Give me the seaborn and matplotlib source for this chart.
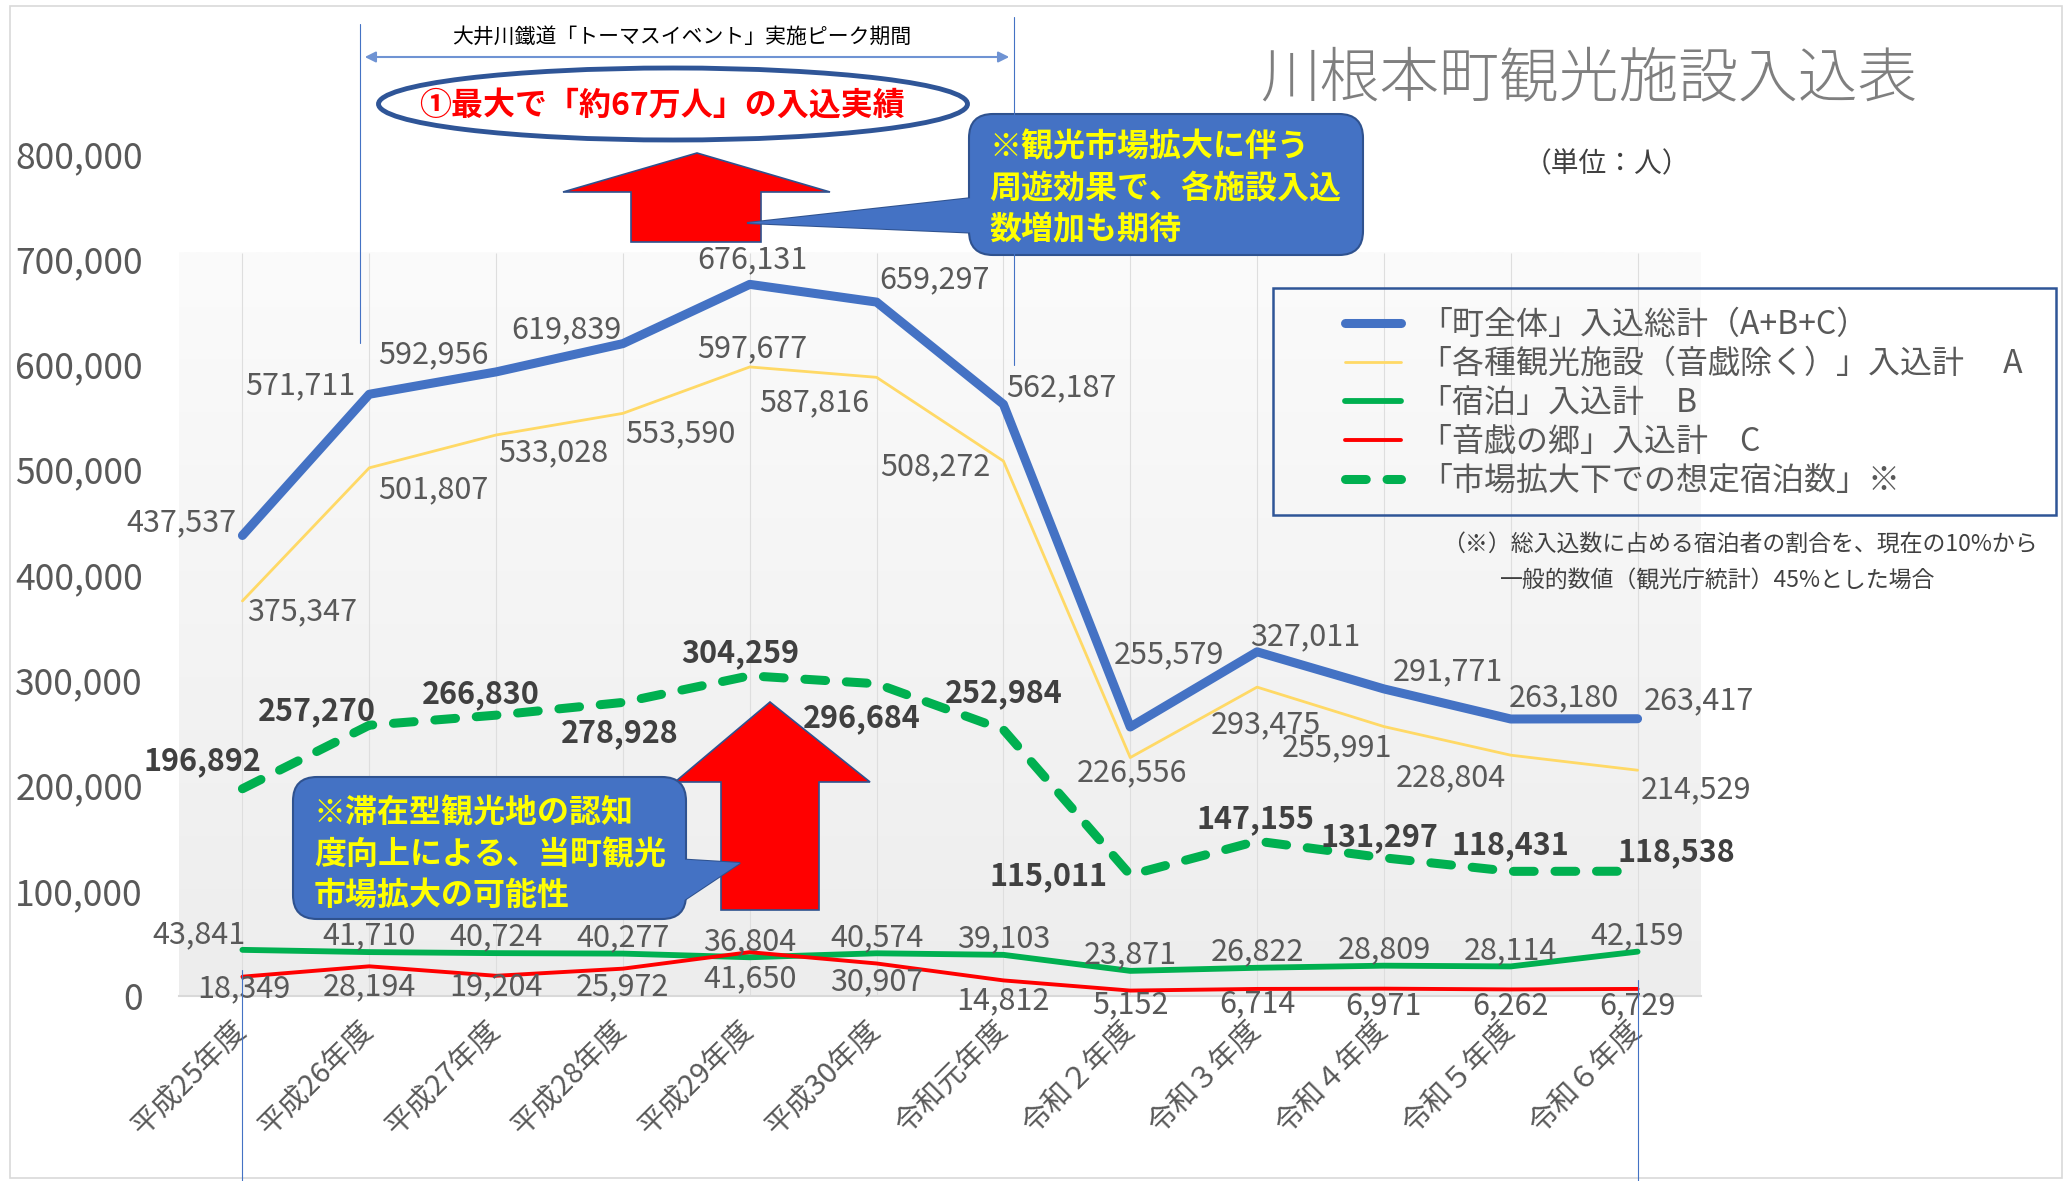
import numpy as np
import pandas as pd
import seaborn as sns
import matplotlib.pyplot as plt
from matplotlib.colors import LinearSegmentedColormap
from matplotlib.lines import Line2D
from matplotlib.patches import FancyBboxPatch, Polygon, Ellipse, Rectangle
from matplotlib.ticker import FuncFormatter
from matplotlib.transforms import ScaledTranslation

sns.set_style("white")
plt.rcParams["font.family"] = ["Noto Sans CJK JP", "DejaVu Sans"]

# data
years = ["平成25年度", "平成26年度", "平成27年度", "平成28年度", "平成29年度", "平成30年度",
         "令和元年度", "令和２年度", "令和３年度", "令和４年度", "令和５年度", "令和６年度"]
total = [437537, 571711, 592956, 619839, 676131, 659297, 562187, 255579, 327011, 291771, 263180, 263417]
facilities = [375347, 501807, 533028, 553590, 597677, 587816, 508272, 226556, 293475, 255991, 228804, 214529]
stay = [43841, 41710, 40724, 40277, 36804, 40574, 39103, 23871, 26822, 28809, 28114, 42159]
otoge = [18349, 28194, 19204, 25972, 41650, 30907, 14812, 5152, 6714, 6971, 6262, 6729]
projected = [196892, 257270, 266830, 278928, 304259, 296684, 252984, 115011, 147155, 131297, 118431, 118538]

legend_labels = [
    "「町全体」入込総計（A+B+C）",
    "「各種観光施設（音戯除く）」入込計　 A",
    "「宿泊」入込計　B",
    "「音戯の郷」入込計　C",
    "「市場拡大下での想定宿泊数」※",
]

# label offsets (points)
tot_off = [(-44, 9), (-50, 6), (-45, 12), (-41, 10), (2, 18), (42, 16), (42, 12), (28, 52), (35, 11), (46, 12), (38, 15), (44, 13)]
fac_off = [(43, -8), (46, -16), (41, -13), (41, -15), (2, 13), (-45, -18), (-49, -4), (1, -11), (6, -27), (-34, -15), (-43, -16), (42, -14)]
stay_off = [(-31, 11)] + [(0, 11.5)] * 11
otoge_off = [(1, -9), (0, -15), (0, -8), (0, -13), (0, -19), (0, -13), (0, -15), (0, -10), (0, -11), (0, -12), (0, -11.5), (0, -12)]
proj_off = [(-29, 20), (-38, 10), (-11, 15), (-2, -22), (-7, 16), (-11, -25), (0, 26), (-59, -1), (-1, 16), (-3, 15), (0, 19), (28, 14)]

BLUE = "#4472C4"
YELLOW = "#FFD966"
GREEN = "#00B050"
RED = "#FF0000"
GRAY = "#595959"

W, H = 2064, 1181
fig = plt.figure(figsize=(W / 100, H / 100), dpi=100)


def fx(px):
    return px / W


def fy(py):
    return 1 - py / H


ax = fig.add_axes([fx(179), fy(996), fx(1701) - fx(179), fy(154) - fy(996)])

df = pd.DataFrame({"idx": np.arange(len(years)), "total": total, "facilities": facilities,
                   "stay": stay, "otoge": otoge, "projected": projected})

# plot-area gradient (the shaded area stops a little above 700,000)
area_top = 706000
grad = np.linspace(0, 1, 256).reshape(-1, 1)
cmap = LinearSegmentedColormap.from_list("bg", ["#FBFBFB", "#EDEDED"])
ax.imshow(grad, extent=(-0.5, 11.5, 0, area_top), aspect="auto", cmap=cmap, zorder=0, origin="upper")
ax.vlines(range(len(years)), 0, area_top, color="#DEDEDE", lw=0.8, zorder=0.5)

round_kw = dict(solid_joinstyle="round", solid_capstyle="round")
sns.lineplot(data=df, x="idx", y="total", ax=ax, color=BLUE, linewidth=6.5, zorder=3, **round_kw)
sns.lineplot(data=df, x="idx", y="facilities", ax=ax, color=YELLOW, linewidth=2.0, zorder=3, **round_kw)
sns.lineplot(data=df, x="idx", y="stay", ax=ax, color=GREEN, linewidth=4.2, zorder=3, **round_kw)
sns.lineplot(data=df, x="idx", y="otoge", ax=ax, color=RED, linewidth=2.8, zorder=3, **round_kw)
sns.lineplot(data=df, x="idx", y="projected", ax=ax, color=GREEN, linewidth=6.5, zorder=3,
             linestyle=(0, (2.3, 2.3)), dash_capstyle="round", dash_joinstyle="round")

ax.set_xlim(-0.5, 11.5)
ax.set_ylim(0, 800000)
ax.set_xlabel("")
ax.set_ylabel("")
ax.set_xticks(range(len(years)))
ax.set_xticklabels(years, rotation=45, ha="right", va="center", rotation_mode="anchor",
                   fontsize=21, color=GRAY)
for lab in ax.get_xticklabels():
    lab.set_transform(lab.get_transform() + ScaledTranslation(5 / 72, 0, fig.dpi_scale_trans))
ax.set_yticks(range(0, 800001, 100000))
ax.yaxis.set_major_formatter(FuncFormatter(lambda v, p: f"{int(v):,}"))
ax.tick_params(axis="y", length=0, pad=26, labelsize=25.5, labelcolor=GRAY)
ax.tick_params(axis="x", length=0, pad=22)
ax.grid(False)
for s in ["top", "right", "left"]:
    ax.spines[s].set_visible(False)
ax.spines["bottom"].set_color("#D9D9D9")
ax.spines["bottom"].set_linewidth(1.5)


def put_labels(values, offsets, bold=False):
    for i, (v, (dx, dy)) in enumerate(zip(values, offsets)):
        ax.annotate(f"{v:,}", xy=(i, v), xytext=(dx, dy), textcoords="offset points",
                    ha="center", va="center", fontsize=22,
                    color="#404040" if bold else GRAY,
                    fontweight="bold" if bold else "normal",
                    annotation_clip=False, zorder=6)


put_labels(total, tot_off)
put_labels(facilities, fac_off)
put_labels(stay, stay_off)
put_labels(otoge, otoge_off)
put_labels(projected, proj_off, bold=True)

# overlay in pixel coordinates for annotations
ov = fig.add_axes([0, 0, 1, 1], zorder=5)
ov.set_xlim(0, W)
ov.set_ylim(H, 0)
ov.axis("off")

ov.add_patch(Rectangle((10, 6), 2052, 1172, fill=False, ec="#D9D9D9", lw=1.2))

# period bracket
ov.plot([360, 360], [24, 343], color=BLUE, lw=0.8)
ov.plot([1014, 1014], [17, 365], color=BLUE, lw=0.8)
ov.plot([242, 242], [970, 1181], color=BLUE, lw=0.8)
ov.plot([1638, 1638], [980, 1181], color=BLUE, lw=0.8)
ov.annotate("", xy=(1012, 57), xytext=(362, 57),
            arrowprops=dict(arrowstyle="<|-|>", color="#6F93D3", lw=1.5, mutation_scale=16))
ov.text(682, 37, "大井川鐵道「トーマスイベント」実施ピーク期間", ha="center", va="center",
        fontsize=15, color="black")

# ellipse
ov.add_patch(Ellipse((673, 104), 589, 72, fc="white", ec="#2F5597", lw=3.5))
ov.text(662, 106, "①最大で「約67万人」の入込実績", ha="center", va="center",
        fontsize=23, fontweight="bold", color=RED)


def up_arrow(tip, head_y, head_x0, head_x1, shaft_x0, shaft_x1, bottom):
    pts = [(tip[0], tip[1]), (head_x1, head_y), (shaft_x1, head_y), (shaft_x1, bottom),
           (shaft_x0, bottom), (shaft_x0, head_y), (head_x0, head_y)]
    ov.add_patch(Polygon(pts, closed=True, fc=RED, ec="#2F528F", lw=1.2))


up_arrow((697, 153), 192, 563, 830, 631, 761, 242)
up_arrow((770, 702), 782, 675, 870, 721, 819, 910)


def callout(x0, y0, x1, y1, pointer, lines, tx, ty):
    ov.add_patch(Polygon(pointer, closed=True, fc=BLUE, ec="#2F528F", lw=1.5))
    ov.add_patch(FancyBboxPatch((x0, y0), x1 - x0, y1 - y0,
                                boxstyle="round,pad=0,rounding_size=24",
                                fc=BLUE, ec="#2F528F", lw=1.5))
    ov.add_patch(Polygon(pointer, closed=True, fc=BLUE, ec="none"))
    for line, y in zip(lines, ty):
        ov.text(tx, y, line, ha="left", va="center", fontsize=23, fontweight="bold",
                color="#FFFF00")


callout(969, 114, 1363, 255, [(981, 197), (747, 223), (981, 233)],
        ["※観光市場拡大に伴う", "周遊効果で、各施設入込", "数増加も期待"], 989, [147, 189, 230])
callout(293, 777, 686, 919, [(674, 859), (740, 863), (674, 907)],
        ["※滞在型観光地の認知", "度向上による、当町観光", "市場拡大の可能性"], 314, [813, 855, 896])

# title and unit
ov.text(1589, 81, "川根本町観光施設入込表", ha="center", va="center", fontsize=43,
        color="#7F7F7F", fontweight="light")
ov.text(1607, 164, "（単位：人）", ha="center", va="center", fontsize=20, color="#404040")

# legend
ov.add_patch(Rectangle((1273, 288), 783, 227, fill=False, ec="#2F5597", lw=1.8))
handles = [
    Line2D([], [], color=BLUE, lw=6.5, solid_capstyle="round"),
    Line2D([], [], color=YELLOW, lw=2.0),
    Line2D([], [], color=GREEN, lw=4.2, solid_capstyle="round"),
    Line2D([], [], color=RED, lw=2.8),
    Line2D([], [], color=GREEN, lw=6.5, linestyle=(0, (2.3, 2.3)), dash_capstyle="round"),
]
fig.legend(handles, legend_labels, loc="upper left", bbox_to_anchor=(fx(1345), fy(309)),
           frameon=False, fontsize=23, handlelength=1.75, handletextpad=0.6,
           labelspacing=0.22, borderpad=0, borderaxespad=0, labelcolor=GRAY)

ov.text(1442, 544, "（※）総入込数に占める宿泊者の割合を、現在の10%から", ha="left", va="center",
        fontsize=16.5, color="#404040")
ov.text(1500, 581, "一般的数値（観光庁統計）45%とした場合", ha="left", va="center",
        fontsize=16.5, color="#404040")

fig.savefig("out.png", dpi=100)
